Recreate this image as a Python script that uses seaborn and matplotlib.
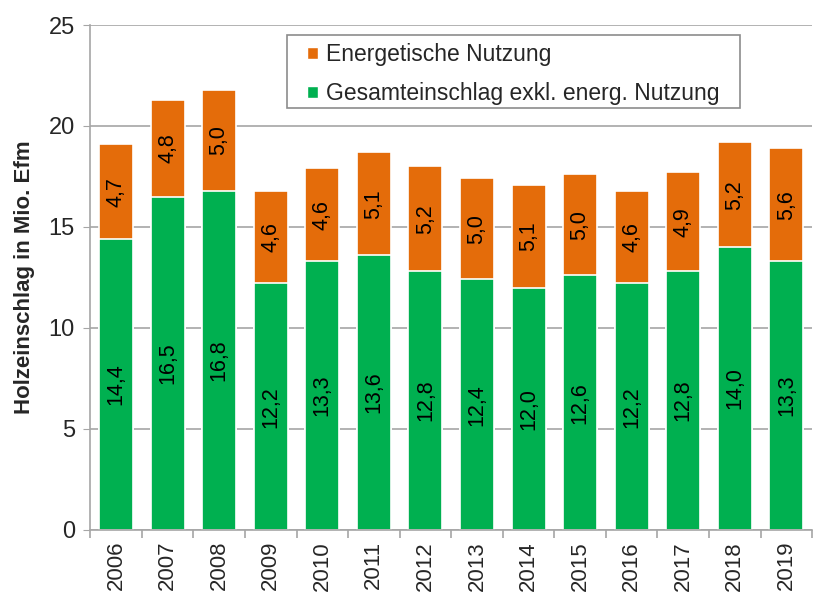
import numpy as np
import pandas as pd
import matplotlib
matplotlib.use("Agg")
import matplotlib.pyplot as plt
from matplotlib.patches import Patch, Rectangle
from matplotlib.ticker import FixedLocator
import seaborn as sns

years = ["2006", "2007", "2008", "2009", "2010", "2011", "2012",
         "2013", "2014", "2015", "2016", "2017", "2018", "2019"]
gesamt = [14.4, 16.5, 16.8, 12.2, 13.3, 13.6, 12.8, 12.4, 12.0, 12.6, 12.2, 12.8, 14.0, 13.3]
energie = [4.7, 4.8, 5.0, 4.6, 4.6, 5.1, 5.2, 5.0, 5.1, 5.0, 4.6, 4.9, 5.2, 5.6]

GREEN = "#00b050"
ORANGE = "#e46c0a"

df = pd.DataFrame({"year": years, "gesamt": gesamt, "energie": energie})
df["total"] = df["gesamt"] + df["energie"]

sns.set_style("white")
plt.rcParams["font.family"] = ["Liberation Sans", "DejaVu Sans"]

fig = plt.figure(figsize=(8.13, 5.96), dpi=100)
ax = fig.add_axes([0.111, 0.111, 0.888, 0.847])

ax.yaxis.grid(True, color="#a6a6a6", linewidth=1.2)
ax.set_axisbelow(True)

# stacked bars: orange total behind, green part in front
sns.barplot(data=df, x="year", y="total", color=ORANGE, saturation=1,
            width=0.66, edgecolor="white", linewidth=1.2, ax=ax)
sns.barplot(data=df, x="year", y="gesamt", color=GREEN, saturation=1,
            width=0.66, edgecolor="white", linewidth=1.2, ax=ax)

for i, row in df.iterrows():
    ax.text(i, row["gesamt"] / 2, f"{row['gesamt']:.1f}".replace(".", ","),
            rotation=90, ha="center", va="center", fontsize=15.5, color="black")
    ax.text(i, row["gesamt"] + row["energie"] / 2, f"{row['energie']:.1f}".replace(".", ","),
            rotation=90, ha="center", va="center", fontsize=15.5, color="black")

ax.set_xlim(-0.5, len(years) - 0.5)
ax.set_ylim(0, 25)
ax.set_yticks([0, 5, 10, 15, 20, 25])
ax.tick_params(axis="y", labelsize=17, length=5, color="#a6a6a6", left=True, pad=6)
ax.set_xticks(range(len(years)))
ax.set_xticklabels(years, rotation=90, fontsize=16)
ax.tick_params(axis="x", which="major", length=0, pad=8)
ax.xaxis.set_minor_locator(FixedLocator(np.arange(-0.5, len(years), 1.0)))
ax.tick_params(axis="x", which="minor", length=6, color="#a6a6a6", bottom=True, width=1.2)

ax.set_xlabel("")
ax.set_ylabel("Holzeinschlag in Mio. Efm", fontsize=16, fontweight="bold", labelpad=10)

for s in ["top", "right"]:
    ax.spines[s].set_visible(False)
for s in ["left", "bottom"]:
    ax.spines[s].set_color("#a6a6a6")
    ax.spines[s].set_linewidth(1.2)

# legend box drawn separately so the padding matches
ax.add_patch(Rectangle((0.273, 0.8356), 0.627, 0.1446, transform=ax.transAxes,
                       facecolor="white", edgecolor="#8c8c8c", linewidth=1.2,
                       zorder=5, clip_on=False))
handles = [Patch(facecolor=ORANGE, label="Energetische Nutzung"),
           Patch(facecolor=GREEN, label="Gesamteinschlag exkl. energ. Nutzung")]
leg = ax.legend(handles=handles, loc="upper left", bbox_to_anchor=(0.3006, 0.964),
                fontsize=16.5, frameon=False, borderpad=0, borderaxespad=0,
                handlelength=0.45, handleheight=0.45, handletextpad=0.35,
                labelspacing=0.7)
leg.set_zorder(6)

fig.savefig("out.png", dpi=100)
